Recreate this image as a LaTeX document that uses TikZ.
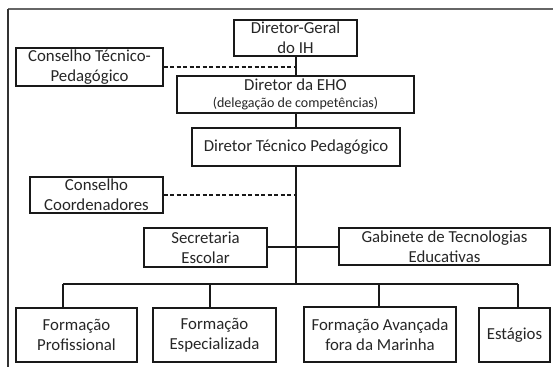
\documentclass[tikz,border=0pt]{standalone}
\usepackage{fontspec}
\setmainfont{Carlito}
\begin{document}
\begin{tikzpicture}[x=1pt,y=-1pt,
  box/.style={draw=black!90,line width=1.4pt,inner sep=0pt,align=center,
    font=\fontsize{16.8}{20}\selectfont,text=black!85,fill=white},
  conn/.style={draw=black!90,line width=1.4pt},
  dconn/.style={conn,dash pattern=on 4pt off 2.5pt}]
\useasboundingbox (0,0) rectangle (553,367);
\draw[black!60,line width=1.6pt] (8,9) -- (553,9);
\draw[black!80,line width=1.4pt] (8,9) -- (8,367);
% boxes
\node[box,minimum width=123pt,minimum height=36pt] (dg) at (295.5,38) {Diretor-Geral\\do IH};
\node[box,minimum width=147pt,minimum height=38pt] (ctp) at (89.5,67) {Conselho Técnico-\\Pedagógico};
\node[box,minimum width=237pt,minimum height=37pt] (eho) at (295.5,94.5) {Diretor da EHO\\[-3pt]{\fontsize{14}{15}\selectfont(delegação de competências)}};
\node[box,minimum width=208pt,minimum height=38pt] (dtp) at (296,147) {Diretor Técnico Pedagógico};
\node[box,minimum width=133pt,minimum height=36pt] (cc) at (96.5,195) {Conselho\\Coordenadores};
\node[box,minimum width=123pt,minimum height=39pt] (sec) at (205.5,247.5) {Secretaria\\Escolar};
\node[box,minimum width=211pt,minimum height=37pt] (gab) at (444.5,246.5) {Gabinete de Tecnologias\\Educativas};
\node[box,minimum width=121pt,minimum height=54pt] (fp) at (76.5,335) {Formação\\Profissional};
\node[box,minimum width=123pt,minimum height=54pt] (fe) at (214.5,335) {Formação\\Especializada};
\node[box,minimum width=152pt,minimum height=55pt] (fa) at (380,334.5) {Formação Avançada\\fora da Marinha};
\node[box,minimum width=71pt,minimum height=54pt] (est) at (514.5,335) {Estágios};
% junctions
\coordinate (j1) at (296,67);
\coordinate (j2) at (296,195);
\coordinate (j3) at (296,247);
\coordinate (jb) at (296,284);
\coordinate (b1) at (63,284);
\coordinate (b2) at (210,284);
\coordinate (b3) at (379,284);
\coordinate (b4) at (518,284);
% connectors
\draw[conn] (dg.south -| j1) -- (eho.north -| j1);
\draw[conn] (eho.south -| j1) -- (dtp.north -| j1);
\draw[conn] (dtp.south -| jb) -- (jb);
\draw[dconn] (ctp.east) -- (ctp.east -| j1);
\draw[dconn] (cc.east) -- (cc.east -| j2);
\draw[conn] (sec.east |- j3) -- (gab.west |- j3);
\draw[conn] (b1) -- (b4);
\draw[conn] (b1) -- (b1 |- fp.north);
\draw[conn] (b2) -- (b2 |- fe.north);
\draw[conn] (b3) -- (b3 |- fa.north);
\draw[conn] (b4) -- (b4 |- est.north);
\end{tikzpicture}
\end{document}
